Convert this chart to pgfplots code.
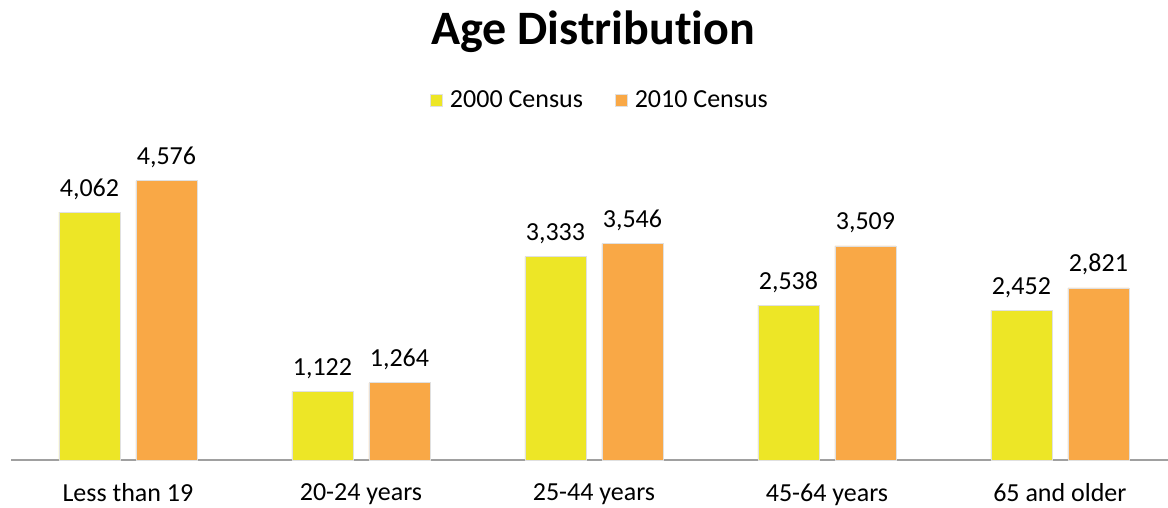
\documentclass[border=0pt]{standalone}
\usepackage{pgfplots}
\pgfplotsset{compat=1.18}
\usepackage{fontspec}
\setmainfont[Ligatures=NoCommon]{Carlito}
\definecolor{cyellow}{HTML}{EDE626}
\definecolor{corange}{HTML}{F9A846}
\definecolor{axisgray}{HTML}{A0A0A0}

\begin{document}
\begin{tikzpicture}
\useasboundingbox (-11pt,-48pt) rectangle (1157pt,460pt);
\begin{axis}[
  scale only axis,
  width=1157pt, height=305pt,
  ybar=16pt, bar width=61pt,
  xmin=-0.502, xmax=4.464,
  ymin=0, ymax=5000,
  axis x line*=bottom, axis y line=none,
  axis line style={axisgray, line width=1.5pt, -},
  xtick=data,
  xticklabels={Less than 19,20-24 years,25-44 years,45-64 years,65 and older},
  major tick length=0pt,
  ytick=\empty,
  xticklabel style={font=\fontsize{26}{30}\selectfont, yshift=-20pt},
  nodes near coords,
  every node near coord/.append style={font=\fontsize{26}{30}\selectfont, black, yshift=9pt},
  /pgf/number format/.cd, 1000 sep={,}, assume math mode=true,
  /pgfplots/.cd,
  legend style={draw=none, at={(589pt,360pt)}, anchor=center,
    legend columns=2, font=\fontsize{26}{30}\selectfont,
    /tikz/every even column/.append style={column sep=30pt},
    /tikz/every odd column/.append style={column sep=5pt}},
  legend image code/.code={\fill[#1] (0pt,-6pt) rectangle (12pt,6pt);},
  clip=false,
]
\addplot[fill=cyellow, draw=black!12, line width=0.8pt] coordinates {(0,4062) (1,1122) (2,3333) (3,2538) (4,2452)};
\addplot[fill=corange, draw=black!12, line width=0.8pt] coordinates {(0,4576) (1,1264) (2,3546) (3,3509) (4,2821)};
\legend{2000 Census,2010 Census}
\end{axis}
\node[font=\bfseries\fontsize{48}{54}\selectfont] at (582pt,428pt) {Age Distribution};
\end{tikzpicture}
\end{document}
